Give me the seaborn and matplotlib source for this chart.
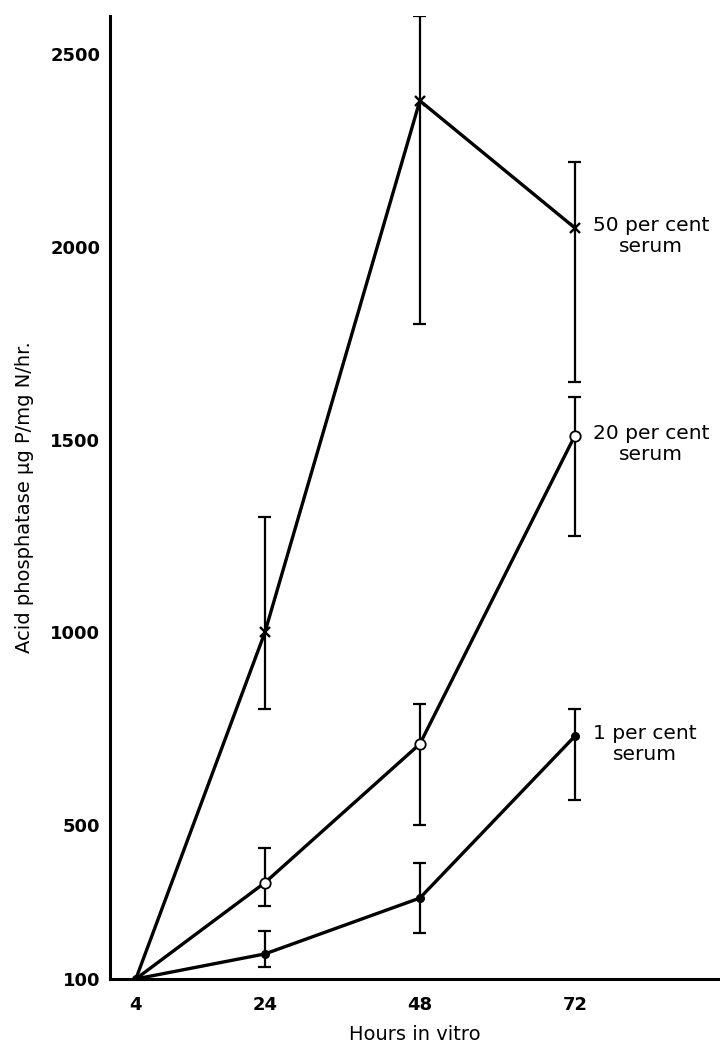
import numpy as np
import pandas as pd
import matplotlib
matplotlib.use("Agg")
import matplotlib.pyplot as plt
import seaborn as sns

# Acid phosphatase activity of cultures kept in different serum concentrations
hours = [4, 24, 48, 72]

serum_50 = [100, 1000, 2380, 2050]
serum_50_low = [np.nan, 800, 1800, 1650]
serum_50_high = [np.nan, 1300, 2600, 2220]

serum_20 = [100, 350, 710, 1510]
serum_20_low = [np.nan, 290, 500, 1250]
serum_20_high = [np.nan, 440, 815, 1610]

serum_1 = [100, 165, 310, 730]
serum_1_low = [np.nan, 130, 220, 565]
serum_1_high = [np.nan, 225, 400, 800]

series_labels = ["50 per cent\nserum", "20 per cent\nserum", "1 per cent\nserum"]
x_ticks = [4, 24, 48, 72]
y_ticks = [100, 500, 1000, 1500, 2000, 2500]

sns.set_style("white")
plt.rcParams["font.family"] = ["DejaVu Sans"]
plt.rcParams["text.color"] = "black"
plt.rcParams["axes.labelcolor"] = "black"
plt.rcParams["xtick.color"] = "black"
plt.rcParams["ytick.color"] = "black"

fig = plt.figure(figsize=(7.2, 10.44), dpi=100)
ax = fig.add_axes([0.1528, 0.0623, 0.8472, 0.9224])

series = [
    (serum_50, serum_50_low, serum_50_high, "x", "black", 7.5, 1.7),
    (serum_20, serum_20_low, serum_20_high, "o", "white", 7.5, 1.3),
    (serum_1, serum_1_low, serum_1_high, "o", "black", 5.5, 1.0),
]

for (vals, lo, hi, mk, face, ms, mew), label in zip(series, series_labels):
    df = pd.DataFrame({"hours": hours, "value": vals})
    # error bars behind the markers
    ax.vlines(hours, lo, hi, color="black", lw=1.6, zorder=2)
    ax.hlines(lo, np.array(hours) - 1.0, np.array(hours) + 1.0, color="black", lw=1.6, zorder=2)
    ax.hlines(hi, np.array(hours) - 1.0, np.array(hours) + 1.0, color="black", lw=1.6, zorder=2)
    sns.lineplot(data=df, x="hours", y="value", ax=ax, color="black", lw=2.4,
                 marker=mk, markersize=ms, markerfacecolor=face,
                 markeredgecolor="black", markeredgewidth=mew,
                 markevery=[1, 2, 3] if face != "black" or mk == "x" else None,
                 zorder=3, legend=False)
    ax.annotate(label, xy=(72, vals[-1]), xytext=(13, 8.5), textcoords="offset points",
                ha="left", va="top", ma="center", fontsize=14.5, linespacing=1.1,
                color="black")

ax.set_xlim(0, 94.5)
ax.set_ylim(100, 2600)
ax.set_xticks(x_ticks)
ax.set_yticks(y_ticks)
ax.set_xticklabels([str(t) for t in x_ticks], fontsize=13, fontweight="bold")
ax.set_yticklabels([str(t) for t in y_ticks], fontsize=13, fontweight="bold")
ax.tick_params(axis="x", direction="out", length=6, width=1.5, pad=6)
ax.tick_params(axis="y", direction="in", length=9, width=1.5, pad=7)

ax.set_xlabel("Hours in vitro", fontsize=14, labelpad=8)
ax.set_ylabel("Acid phosphatase μg P/mg N/hr.", fontsize=14, labelpad=12)

sns.despine(ax=ax, top=True, right=True)
for side in ["left", "bottom"]:
    ax.spines[side].set_linewidth(2.2)
    ax.spines[side].set_color("black")

fig.savefig("out.png", dpi=100)
